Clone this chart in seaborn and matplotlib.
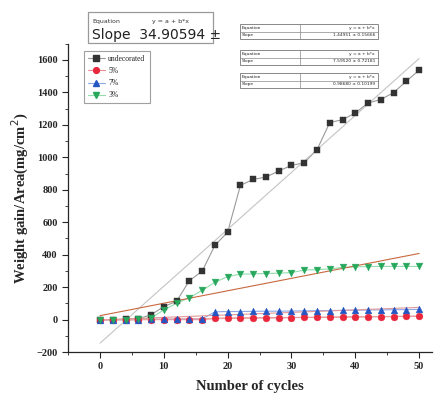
import numpy as np
import pandas as pd
import matplotlib
matplotlib.use("Agg")
import matplotlib.pyplot as plt
import seaborn as sns
from matplotlib.patches import Rectangle
from matplotlib.lines import Line2D
from matplotlib.ticker import MultipleLocator

cycles = [0, 2, 4, 6, 8, 10, 12, 14, 16, 18, 20, 22, 24, 26, 28, 30, 32, 34, 36, 38, 40, 42, 44, 46, 48, 50]
undecorated = [0, 0, 2, 5, 30, 80, 113, 240, 298, 457, 539, 827, 864, 878, 916, 950, 967, 1047, 1214, 1232, 1273, 1335, 1356, 1399, 1469, 1537]
pct5 = [0, 0, 0, 0, 0, 0, 0, 0, 0, 8, 10, 10, 11, 12, 12, 13, 14, 14, 15, 16, 17, 18, 18, 19, 20, 20]
pct7 = [0, 0, 0, 0, 2, 3, 3, 4, 4, 48, 50, 50, 51, 52, 52, 53, 54, 55, 56, 57, 58, 59, 60, 61, 62, 63]
pct3 = [0, 0, 0, 2, 10, 60, 100, 135, 180, 230, 265, 280, 282, 284, 286, 290, 305, 308, 312, 322, 325, 327, 328, 328, 328, 328]

series_names = ["undecorated", "5%", "7%", "3%"]
series_values = [undecorated, pct5, pct7, pct3]
marker_styles = ["s", "o", "^", "v"]
marker_colors = ["#333333", "#e8263c", "#2456c4", "#27a85c"]
line_colors = ["#9a9a9a", "#f08a95", "#8ea8e8", "#93dcae"]

table_rows = [("Equation", "y = a + b*x", "Slope", "1.44951 \u00b1 0.15666"),
              ("Equation", "y = a + b*x", "Slope", "7.59520 \u00b1 0.72181"),
              ("Equation", "y = a + b*x", "Slope", "0.98680 \u00b1 0.10199")]

sns.set_theme(style="ticks")
serif = ["Liberation Serif", "DejaVu Serif"]
plt.rcParams["font.family"] = serif

fig = plt.figure(figsize=(4.48, 4.01), dpi=100)
ax = fig.add_axes([0.152, 0.122, 0.812, 0.769])

handles = []
for name, vals, mk, mc, lc in zip(series_names, series_values, marker_styles,
                                  marker_colors, line_colors):
    d = pd.DataFrame({"cycles": cycles, "value": vals})
    sns.lineplot(data=d, x="cycles", y="value", ax=ax, color=lc, lw=0.8,
                 zorder=2, legend=False)
    sns.scatterplot(data=d, x="cycles", y="value", ax=ax, marker=mk, color=mc,
                    s=24, edgecolor=mc, linewidth=0.3, zorder=4, legend=False)
    handles.append(Line2D([], [], color=lc, lw=0.8, marker=mk, markersize=4.2,
                          markerfacecolor=mc, markeredgecolor=mc, label=name))

# linear fits
for vals, fc in zip([undecorated, pct3, pct7, pct5],
                    ["#c4c4c4", "#c8683f", "#e29a9a", "#eaa0a0"]):
    d = pd.DataFrame({"cycles": cycles, "value": vals})
    sns.regplot(data=d, x="cycles", y="value", ax=ax, scatter=False, ci=None,
                truncate=True, line_kws={"color": fc, "lw": 0.8, "zorder": 3})

ax.set_xlim(-5, 52)
ax.set_ylim(-200, 1700)
ax.xaxis.set_major_locator(MultipleLocator(10))
ax.xaxis.set_minor_locator(MultipleLocator(5))
ax.yaxis.set_minor_locator(MultipleLocator(100))
ax.set_yticks(range(-200, 1601, 200))
ax.tick_params(which="major", direction="out", length=4, width=0.8, labelsize=7.5)
ax.tick_params(which="minor", direction="out", length=2, width=0.6)
for lab in ax.get_xticklabels() + ax.get_yticklabels():
    lab.set_fontweight("bold")
for s in ["top", "right"]:
    ax.spines[s].set_visible(False)
for s in ["left", "bottom"]:
    ax.spines[s].set_linewidth(0.9)
ax.set_xlabel("Number of cycles", fontsize=10.5, fontweight="bold", labelpad=6)
ax.set_ylabel("Weight gain/Area(mg/cm$^2$)", fontsize=10.5, fontweight="bold", labelpad=4)

leg = fig.legend(handles=handles, loc="upper left",
                 bbox_to_anchor=(84 / 448, 1 - 51 / 401), frameon=True,
                 fancybox=False, edgecolor="#888888", fontsize=5.5,
                 handlelength=2.2, handletextpad=0.5, borderpad=0.5,
                 labelspacing=0.55, borderaxespad=0)
leg.get_frame().set_linewidth(0.8)

def px(x, y):
    return x / 448, 1 - y / 401

# top fit box (undecorated)
x0, y0 = px(88, 43)
fig.patches.append(Rectangle((x0, y0), 125 / 448, 31 / 401, transform=fig.transFigure,
                             fill=False, edgecolor="#999999", lw=0.9))
fig.text(*px(92, 21), "Equation", fontsize=4.5, family="DejaVu Sans", va="center", color="#333333")
fig.text(*px(152, 21), "y = a + b*x", fontsize=4.5, family="DejaVu Sans", va="center", color="#333333")
fig.text(*px(92, 35), "Slope  34.90594 \u00b1", fontsize=10, family="DejaVu Sans", va="center",
         color="#222222")

# right tables
tops = [24, 50, 73]
for top, row in zip(tops, table_rows):
    xa, ya = px(240, top + 15)
    fig.patches.append(Rectangle((xa, ya), 138 / 448, 15 / 401, transform=fig.transFigure,
                                 fill=False, edgecolor="#888888", lw=0.7))
    fig.lines.append(Line2D([240 / 448, 378 / 448], [1 - (top + 7.5) / 401] * 2,
                            transform=fig.transFigure, color="#888888", lw=0.5))
    fig.lines.append(Line2D([300 / 448, 300 / 448], [1 - top / 401, 1 - (top + 15) / 401],
                            transform=fig.transFigure, color="#888888", lw=0.5))
    fig.text(*px(242, top + 3.8), row[0], fontsize=3.2, family="DejaVu Sans", va="center")
    fig.text(*px(375, top + 3.8), row[1], fontsize=3.2, family="DejaVu Sans", va="center", ha="right")
    fig.text(*px(242, top + 11.3), row[2], fontsize=3.2, family="DejaVu Sans", va="center")
    fig.text(*px(375, top + 11.3), row[3], fontsize=3.2, family="DejaVu Sans", va="center", ha="right")

fig.savefig("out.png", dpi=100)
